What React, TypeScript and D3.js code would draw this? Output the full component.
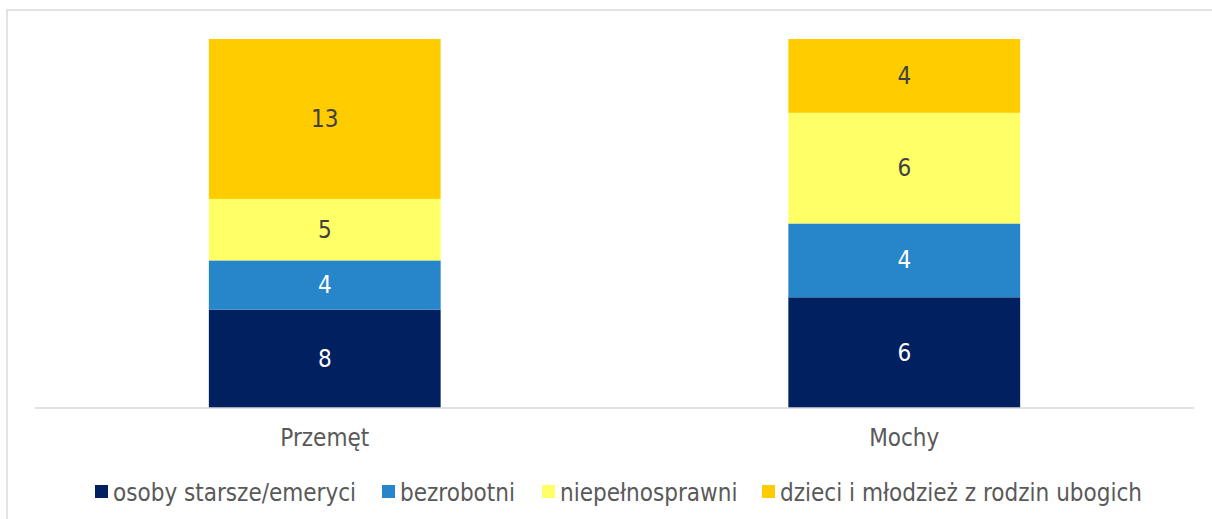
import React from "react";
import * as d3 from "d3";

const categories = ["Przemęt", "Mochy"];
const seriesNames = [
  "osoby starsze/emeryci",
  "bezrobotni",
  "niepełnosprawni",
  "dzieci i młodzież z rodzin ubogich",
];
const seriesColors = ["#002060", "#2785CA", "#FFFF66", "#FFCC00"];
const labelColors = ["#FFFFFF", "#FFFFFF", "#404040", "#404040"];
const valuesOsoby = [8, 6];
const valuesBezrobotni = [4, 4];
const valuesNiepelno = [5, 6];
const valuesDzieci = [13, 4];

const FONT = "'DejaVu Sans Condensed', 'DejaVu Sans', sans-serif";

export default function App() {
  const W = 1212;
  const H = 519;
  const plotLeft = 35;
  const plotRight = 1194;
  const plotTop = 39;
  const plotBottom = 408;

  const seriesValues = [valuesOsoby, valuesBezrobotni, valuesNiepelno, valuesDzieci];
  const rows = categories.map((c, i) => {
    const r: any = { cat: c };
    seriesNames.forEach((s, j) => (r[s] = seriesValues[j][i]));
    return r;
  });
  const stacked = d3.stack<any>().keys(seriesNames).offset(d3.stackOffsetExpand)(rows);

  const x = d3
    .scaleBand<string>()
    .domain(categories)
    .range([plotLeft, plotRight])
    .paddingInner(0.6)
    .paddingOuter(0.3);
  const y = d3.scaleLinear().domain([0, 1]).range([plotBottom, plotTop]);

  // legend layout (marker x positions)
  const legendX = [95, 382, 542, 762];

  return (
    <svg
      width={W}
      height={H}
      style={{ position: "absolute", left: 0, top: 0, display: "block" }}
      fontFamily={FONT}
    >
      <rect x={0} y={0} width={W} height={H} fill="#ffffff" />
      <rect x={7} y={10} width={W + 20} height={H + 20} fill="none" stroke="#d9d9d9" strokeWidth={1.5} />
      {stacked.map((layer, j) =>
        layer.map((d, i) => {
          const x0 = x(categories[i])!;
          const y0 = y(d[1]);
          const h = y(d[0]) - y(d[1]);
          return (
            <g key={`${j}-${i}`}>
              <rect x={x0} y={y0} width={x.bandwidth()} height={h} fill={seriesColors[j]} />
              <text
                x={x0 + x.bandwidth() / 2}
                y={y0 + h / 2}
                textAnchor="middle"
                dominantBaseline="central"
                fontSize={24}
                fill={labelColors[j]}
              >
                {seriesValues[j][i]}
              </text>
            </g>
          );
        })
      )}
      <line x1={plotLeft} x2={plotRight} y1={plotBottom} y2={plotBottom} stroke="#d9d9d9" strokeWidth={1.5} />
      {categories.map((c) => (
        <text
          key={c}
          x={x(c)! + x.bandwidth() / 2}
          y={446}
          textAnchor="middle"
          fontSize={24}
          fill="#595959"
        >
          {c}
        </text>
      ))}
      {seriesNames.map((s, j) => (
        <g key={s}>
          <rect x={legendX[j]} y={485} width={13} height={13} fill={seriesColors[j]} />
          <text x={legendX[j] + 18} y={501} fontSize={24} fill="#595959">
            {s}
          </text>
        </g>
      ))}
    </svg>
  );
}
